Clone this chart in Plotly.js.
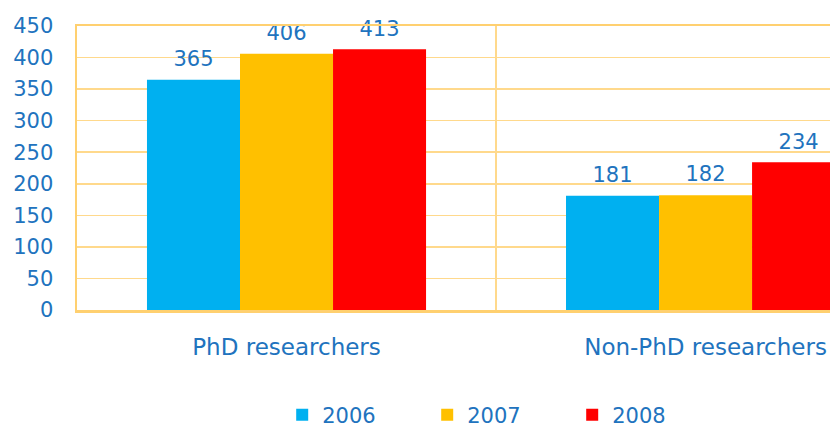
<!DOCTYPE html>
<html>
<head>
<meta charset="utf-8">
<script src="https://cdn.plot.ly/plotly-3.0.1.min.js"></script>
<style>html,body{margin:0;padding:0;overflow:hidden;background:#fff;}</style>
</head>
<body>
<div id="chart" style="width:830px;height:428px;"></div>
<script>
const categories = ["PhD researchers", "Non-PhD researchers"];
const years = ["2006", "2007", "2008"];
const values2006 = [365, 181];
const values2007 = [406, 182];
const values2008 = [413, 234];
const colors = ["#00B0F0", "#FFC000", "#FF0000"];
const yTicks = [0, 50, 100, 150, 200, 250, 300, 350, 400, 450];

const series = [values2006, values2007, values2008];
const labelBlue = "#2173BE";
const fontFam = "DejaVu Sans, Verdana, sans-serif";

const traces = [];
series.forEach((vals, i) => {
  traces.push({
    type: "bar", name: years[i], x: categories, y: vals,
    marker: {color: colors[i], line: {width: 0}},
    hoverinfo: "skip"
  });
});
series.forEach((vals, i) => {
  traces.push({
    type: "scatter", mode: "markers+text", x: categories, y: vals,
    text: vals.map(String), textposition: "top center",
    textfont: {family: fontFam, size: 21, color: labelBlue},
    marker: {size: 12, opacity: 0, color: colors[i]},
    showlegend: false, hoverinfo: "skip", cliponaxis: false
  });
});

const layout = {
  width: 830, height: 428,
  margin: {l: 77, r: 0, t: 26, b: 118, autoexpand: false},
  paper_bgcolor: "#ffffff", plot_bgcolor: "#ffffff",
  barmode: "group", bargap: 0.334, bargroupgap: 0,
  scattermode: "group", scattergap: 0.334,
  font: {family: fontFam, color: labelBlue},
  xaxis: {
    type: "category", range: [-0.5, 1.297],
    tickson: "boundaries", showgrid: true, gridcolor: "#FFD98C", gridwidth: 1.5,
    showline: true, mirror: true, linecolor: "#FFD070", linewidth: 2.5,
    ticks: "", ticklabelstandoff: 15,
    tickfont: {family: fontFam, size: 23, color: labelBlue},
    zeroline: false, fixedrange: true
  },
  yaxis: {
    range: [0, 450], tickvals: yTicks, ticktext: yTicks.map(String),
    showgrid: true, gridcolor: "#FFD98C", gridwidth: 1.5,
    showline: true, linecolor: "#FFD070", linewidth: 2.5,
    ticks: "", ticklabelstandoff: 17, zeroline: false,
    tickfont: {family: fontFam, size: 21, color: labelBlue},
    fixedrange: true
  },
  showlegend: true,
  legend: {
    orientation: "h", xref: "container", yref: "paper",
    x: 0.34, xanchor: "left", y: -0.37, yanchor: "middle",
    entrywidth: 100, entrywidthmode: "pixels",
    font: {family: fontFam, size: 21, color: labelBlue},
    bgcolor: "rgba(0,0,0,0)"
  }
};

Plotly.newPlot("chart", traces, layout, {staticPlot: true, displayModeBar: false});
</script>
</body>
</html>
